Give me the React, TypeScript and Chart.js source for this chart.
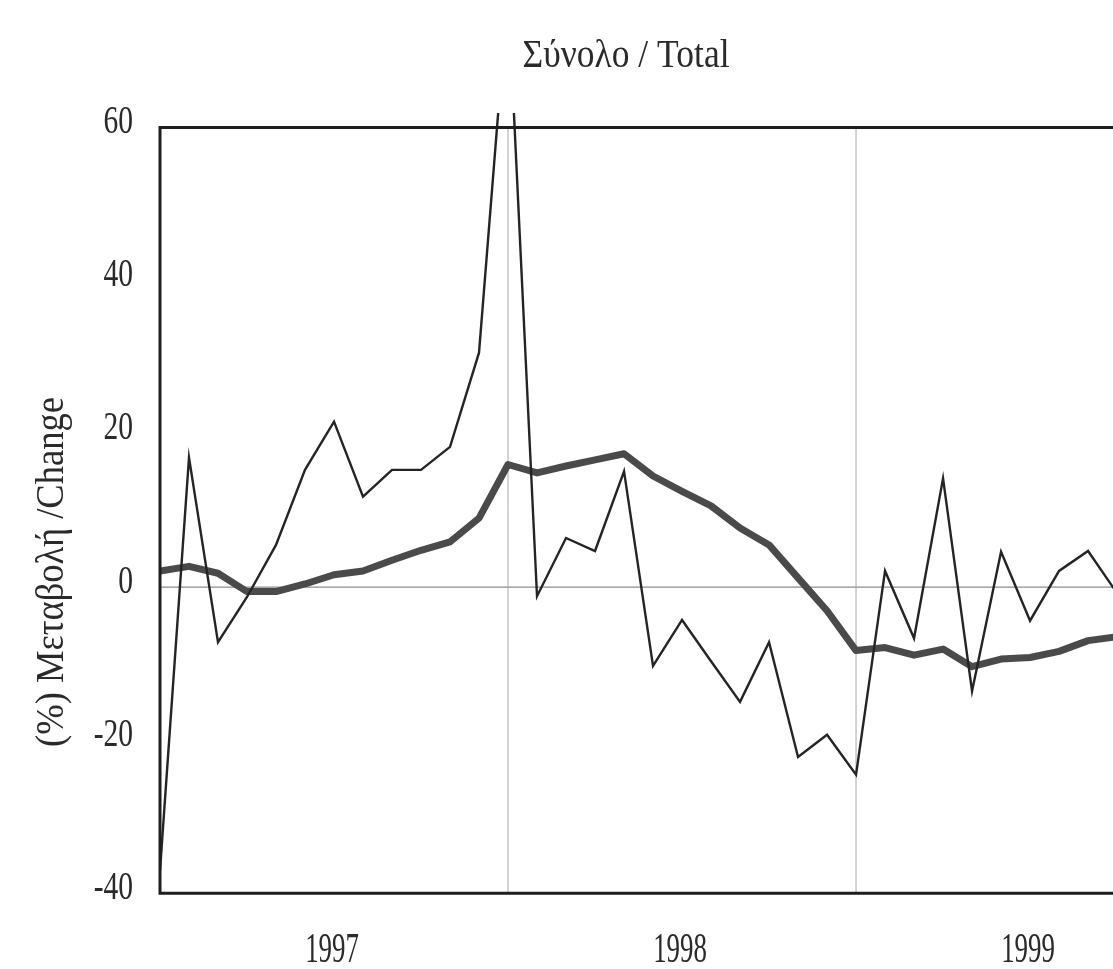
import React, { useEffect, useRef } from "react";
import { Chart, registerables } from "chart.js";

Chart.register(...registerables);

// Month index 0 = first month shown (early 1997); year boundaries every 12 months
const yearLabels = ["1997", "1998", "1999"];
const yTicks = [60, 40, 20, 0, -20, -40];

// Thin line: monthly % change
const monthlyChange = [
  -37, 16.9, -7.2, -1.3, 5.5, 15.3, 21.6, 11.8, 15.3, 15.3, 18.3, 30.6,
  78, -1.2, 6.4, 4.7, 15.1, -10.3, -4.3, -9.7, -15, -7.2, -22.2, -19.3,
  -24.5, 2.1, -6.7, 14.2, -13.6, 4.6, -4.4, 2.1, 4.7, -0.8,
];

// Thick line: trend (smoothed % change)
const trendChange = [
  2.1, 2.7, 1.8, -0.6, -0.6, 0.4, 1.6, 2.1, 3.5, 4.8, 5.9, 9.0,
  16.0, 14.9, 15.8, 16.6, 17.4, 14.5, 12.5, 10.6, 7.7, 5.5, 1.2, -3.1,
  -8.3, -7.9, -8.9, -8.1, -10.4, -9.4, -9.2, -8.4, -7.0, -6.5,
];

const TITLE = "Σύνολο / Total";
const Y_TITLE = "(%) Μεταβολή /Change";
const FONT = '"Liberation Serif", "DejaVu Serif", serif';
const TEXT_COLOR = "#2a2a2a";

function drawText(
  ctx: CanvasRenderingContext2D,
  text: string,
  x: number,
  y: number,
  size: number,
  opts: { sx?: number; fitWidth?: number; align?: CanvasTextAlign; rotate?: boolean }
) {
  ctx.save();
  ctx.font = `${size}px ${FONT}`;
  ctx.fillStyle = TEXT_COLOR;
  ctx.textAlign = opts.align || "center";
  ctx.textBaseline = "alphabetic";
  let sx = opts.sx ?? 1;
  if (opts.fitWidth) sx = opts.fitWidth / ctx.measureText(text).width;
  ctx.translate(x, y);
  if (opts.rotate) ctx.rotate(-Math.PI / 2);
  ctx.scale(sx, 1);
  ctx.fillText(text, 0, 0);
  ctx.restore();
}

const decorPlugin = {
  id: "decor",
  beforeDatasetsDraw(chart: any) {
    const { ctx, scales } = chart;
    const x = scales.x;
    const y = scales.y;
    ctx.save();
    // zero line
    ctx.strokeStyle = "#8c8c8c";
    ctx.lineWidth = 1.2;
    ctx.beginPath();
    ctx.moveTo(x.left, y.getPixelForValue(0));
    ctx.lineTo(x.right, y.getPixelForValue(0));
    ctx.stroke();
    // year boundary lines
    ctx.strokeStyle = "#a8a8a8";
    ctx.lineWidth = 1;
    for (let k = 1; k < yearLabels.length; k++) {
      const px = x.getPixelForValue(k * 12);
      ctx.beginPath();
      ctx.moveTo(px, y.getPixelForValue(60));
      ctx.lineTo(px, y.getPixelForValue(-40));
      ctx.stroke();
    }
    ctx.restore();
  },
  afterDatasetsDraw(chart: any) {
    const { ctx, scales } = chart;
    const x = scales.x;
    const y = scales.y;
    ctx.save();
    // frame: top, left, bottom
    ctx.strokeStyle = "#1e1e1e";
    ctx.lineWidth = 3;
    ctx.lineJoin = "miter";
    ctx.beginPath();
    ctx.moveTo(x.right, y.getPixelForValue(60));
    ctx.lineTo(x.left, y.getPixelForValue(60));
    ctx.lineTo(x.left, y.getPixelForValue(-40));
    ctx.lineTo(x.right, y.getPixelForValue(-40));
    ctx.stroke();
    ctx.restore();

    // y tick labels
    for (const t of yTicks) {
      drawText(ctx, String(t), x.left - 27, y.getPixelForValue(t) + 5.5, 41, {
        sx: 0.72,
        align: "right",
      });
    }
    // x year labels, centred in each year
    yearLabels.forEach((lab, k) => {
      drawText(ctx, lab, x.getPixelForValue(k * 12 + 6) - 2, 962, 42, {
        sx: 0.64,
        align: "center",
      });
    });
    // title
    drawText(ctx, TITLE, 626, 67, 41, { fitWidth: 207, align: "center" });
    // y axis title
    drawText(ctx, Y_TITLE, 63, 572, 41, {
      fitWidth: 350,
      align: "center",
      rotate: true,
    });
  },
};

export default function App() {
  const canvasRef = useRef<HTMLCanvasElement | null>(null);

  useEffect(() => {
    document.body.style.margin = "0";
    const canvas = canvasRef.current;
    if (!canvas) return;
    const chart = new Chart(canvas, {
      type: "line",
      data: {
        datasets: [
          {
            label: "Trend",
            data: trendChange.map((v, i) => ({ x: i, y: v })),
            borderColor: "#4a4a4a",
            borderWidth: 7,
            pointRadius: 0,
            tension: 0,
            borderJoinStyle: "round",
            borderCapStyle: "round",
            order: 2,
          },
          {
            label: "Monthly",
            data: monthlyChange.map((v, i) => ({ x: i, y: v })),
            borderColor: "#242424",
            borderWidth: 2.4,
            pointRadius: 0,
            tension: 0,
            order: 1,
          },
        ],
      },
      options: {
        animation: false,
        responsive: false,
        devicePixelRatio: 1,
        layout: { padding: { left: 160, top: 113, right: 0, bottom: 68 } },
        scales: {
          x: { type: "linear", display: false, min: 0, max: 32.86 },
          y: { type: "linear", display: false, min: -41, max: 61.9 },
        },
        plugins: {
          legend: { display: false },
          tooltip: { enabled: false },
          title: { display: false },
        },
      },
      plugins: [decorPlugin],
    });
    return () => chart.destroy();
  }, []);

  return (
    <div style={{ position: "absolute", left: 0, top: 0, width: 1113, height: 969, background: "#fff" }}>
      <canvas ref={canvasRef} width={1113} height={969} />
    </div>
  );
}
